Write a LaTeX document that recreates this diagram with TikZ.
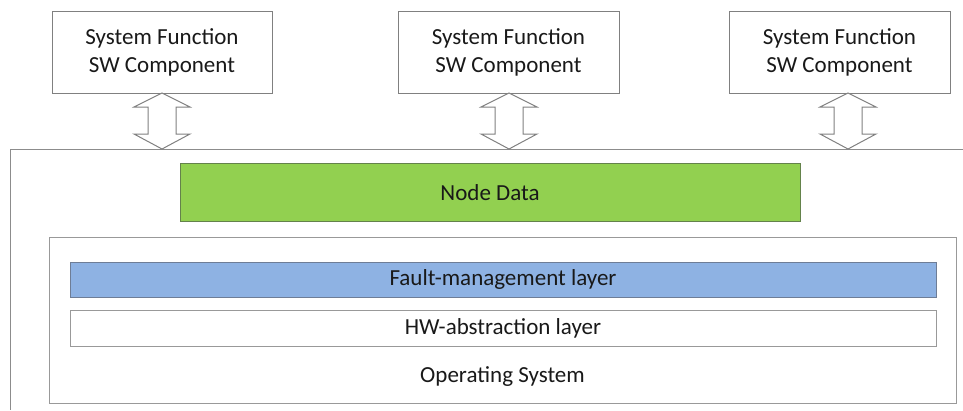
\documentclass[tikz,border=0pt]{standalone}
\usepackage{fontspec}
\setmainfont{Carlito}
\definecolor{ndgreen}{RGB}{146,208,80}
\definecolor{ndborder}{RGB}{100,130,75}
\definecolor{fmblue}{RGB}{142,178,227}
\definecolor{fmborder}{RGB}{110,125,150}
\begin{document}
\begin{tikzpicture}[x=1pt,y=-1pt,
  line width=1pt,
  every node/.style={font=\fontsize{23}{28}\selectfont, text=black!90, inner sep=0pt},
  swbox/.style={draw=black!50, fill=white, align=center},
  layer/.style={draw=black!40, fill=white},
  arrowshape/.style={draw=black!50, fill=white, line join=miter}
]
\useasboundingbox (0,0) rectangle (963,410);

% open outer frame (top and left edges)
\draw[black!45] (963,149) -- (10,149) -- (10,410);

% software components on top
\node[swbox, minimum width=220pt, minimum height=82pt] (sw1) at (162,52) {System Function\\SW Component};
\node[swbox, minimum width=221pt, minimum height=82pt] (sw2) at (508.5,52) {System Function\\SW Component};
\node[swbox, minimum width=221pt, minimum height=82pt] (sw3) at (839.5,52) {System Function\\SW Component};

% double-headed block arrows between components and the frame
\foreach \c/\n in {162/1,509/2,848/3}{
  \coordinate (top\n) at (\c,93);
  \coordinate (bot\n) at (\c,149);
  \draw[arrowshape] (top\n) -- ++(28,14) -- ++(-14,0) -- ++(0,27) -- ++(14,0)
    -- (bot\n) -- ++(-28,-15) -- ++(14,0) -- ++(0,-27) -- ++(-14,0) -- cycle;
}

% node data
\node[draw=ndborder, fill=ndgreen, minimum width=620pt, minimum height=58pt] (nd) at (490,192.5) {Node Data};

% operating system with its layers
\node[layer, minimum width=907pt, minimum height=166pt] (os) at (502.5,320) {};
\node (ostext) at (502.5,377) {Operating System};
\node[draw=fmborder, fill=fmblue, minimum width=866pt, minimum height=35pt] (fm) at (503,279.5) {Fault-management layer};
\node[layer, minimum width=866pt, minimum height=36pt] (hw) at (503,328) {HW-abstraction layer};
\end{tikzpicture}
\end{document}
